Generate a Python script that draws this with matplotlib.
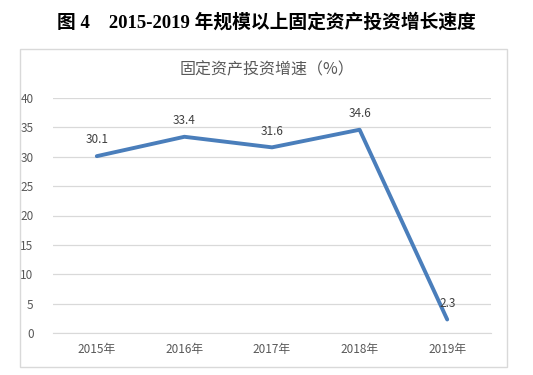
import matplotlib.pyplot as plt
from matplotlib.patches import Rectangle

plt.rcParams['font.family'] = ['Noto Sans CJK SC', 'DejaVu Sans']

years = ["2015年", "2016年", "2017年", "2018年", "2019年"]
growth = [30.1, 33.4, 31.6, 34.6, 2.3]
yticks = [0, 5, 10, 15, 20, 25, 30, 35, 40]

fig = plt.figure(figsize=(5.33, 3.75), dpi=100)

# chart border
fig.patches.append(Rectangle((20 / 533, 1 - 367 / 375), 487 / 533, 318 / 375,
                             transform=fig.transFigure, fill=False,
                             edgecolor='#D9D9D9', linewidth=1))

# figure caption
fig.text(0.5, 1 - 22 / 375, "图 4    2015-2019 年规模以上固定资产投资增长速度",
         ha='center', va='center', fontsize=13.5, fontweight='bold',
         family=['Liberation Serif', 'Noto Sans CJK SC'], color='black')

# chart title
fig.text(0.5, 1 - 70 / 375, "固定资产投资增速（%）", ha='center', va='center',
         fontsize=11.5, color='#595959')

ax = fig.add_axes([53 / 533, 1 - 333 / 375, 438 / 533, 235 / 375])
x = range(len(years))
ax.plot(x, growth, color='#4A7EBB', linewidth=2.8, solid_capstyle='round')
for i, v in zip(x, growth):
    ax.annotate(f"{v}", (i, v), xytext=(0, 7), textcoords='offset points',
                ha='center', va='bottom', fontsize=8.5, color='#404040')

ax.set_xlim(-0.5, len(years) - 0.5)
ax.set_ylim(0, 40)
ax.set_yticks(yticks)
ax.set_xticks(list(x))
ax.set_xticklabels(years)
ax.tick_params(axis='both', length=0, labelsize=8.5, labelcolor='#595959')
ax.tick_params(axis='y', pad=14)
ax.tick_params(axis='x', pad=7)
ax.grid(axis='y', color='#D9D9D9', linewidth=0.9)
ax.set_axisbelow(True)
for s in ['top', 'right', 'left']:
    ax.spines[s].set_visible(False)
ax.spines['bottom'].set_color('#D9D9D9')

fig.savefig('out.png', dpi=100)
